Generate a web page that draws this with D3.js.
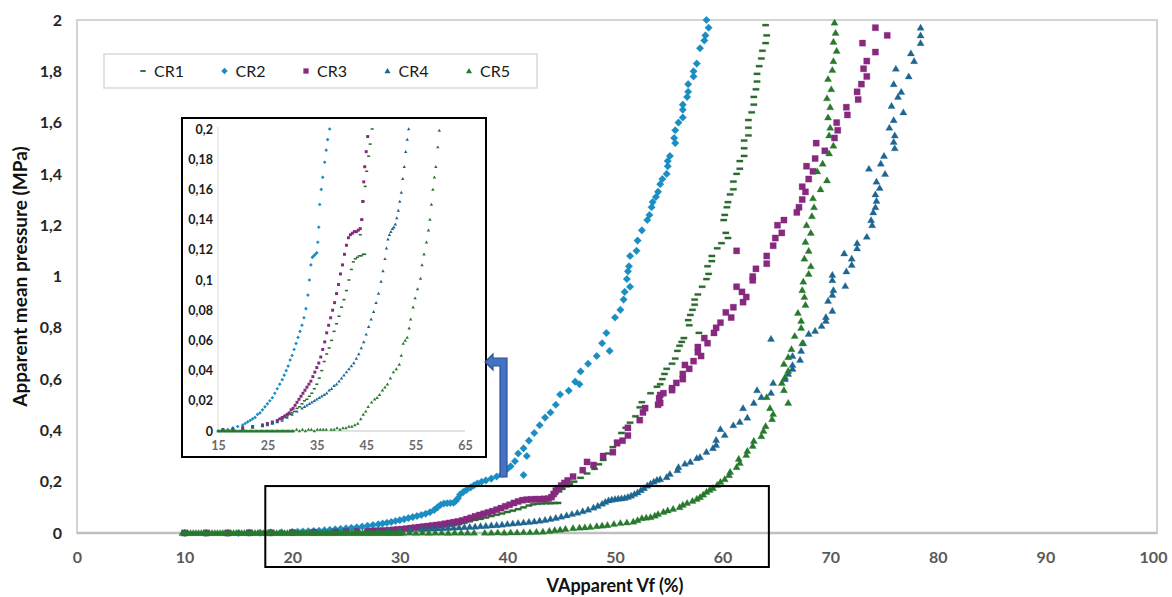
<!DOCTYPE html>
<html>
<head>
<meta charset="utf-8">
<script src="https://cdn.jsdelivr.net/npm/d3@7"></script>
<style>
  body { margin: 0; background: #fff; }
  svg { display: block; font-family: Lato, "Open Sans", sans-serif; }
</style>
</head>
<body>
<svg id="chart" width="1172" height="597"></svg>
<script>
// values: [volume fraction %, pressure MPa]
var seriesNames = ["CR1", "CR2", "CR3", "CR4", "CR5"];

var cr1 = [[10,0],[12,0],[14,0],[16,0],[18,0.001],[20,0.001],[22,0.002],[24,0.003],[25,0.004],[26,0.005],[27,0.006],[28,0.008],[28.5,0.009],[29,0.01],[29.5,0.011],[30,0.012],[30.5,0.013],[31,0.015],[31.5,0.016],[32,0.018],[32.5,0.02],[33,0.021],[33.5,0.023],[34,0.025],[34.5,0.028],[35,0.031],[35.5,0.035],[36,0.04],[36.5,0.046],[37,0.051],[37.5,0.055],[38,0.06],[38.5,0.066],[39,0.071],[39.5,0.076],[40,0.082],[40.5,0.087],[41,0.093],[41.5,0.1],[42,0.107],[42.4,0.112],[42.8,0.114],[43.2,0.115],[43.6,0.116],[44,0.116],[44.4,0.117],[44.7,0.117],[43.8,0.13],[44.1,0.14],[44.4,0.152],[44.8,0.162],[45.1,0.172],[45.5,0.182],[45.8,0.19],[46.2,0.2],[46.8,0.215],[47.4,0.232],[48.1,0.25],[48.5,0.268],[48.9,0.285],[49.4,0.31],[49.8,0.335],[50.2,0.36],[50.6,0.39],[51,0.41],[51.4,0.43],[51.9,0.455],[52.3,0.49],[52.5,0.51],[53.3,0.545],[53.9,0.57],[54.2,0.58],[54.4,0.6],[54.6,0.62],[54.8,0.64],[55.3,0.66],[55.6,0.68],[55.8,0.71],[56,0.73],[56.2,0.745],[56.4,0.76],[57.8,0.78],[56.9,0.81],[56.8,0.83],[57,0.85],[57.2,0.87],[57.4,0.89],[57.4,0.91],[57.7,0.93],[58.1,0.96],[58.5,0.99],[58.7,1.01],[58.6,1.04],[59,1.06],[59,1.08],[59.5,1.11],[59.9,1.13],[60.5,1.15],[60.3,1.17],[60.1,1.22],[60.2,1.24],[60.4,1.27],[60.5,1.29],[60.7,1.32],[61,1.34],[61,1.37],[61.3,1.4],[61.6,1.42],[61.6,1.45],[62,1.47],[62,1.5],[62,1.53],[62.4,1.55],[62.4,1.58],[62.4,1.61],[62.7,1.64],[62.9,1.67],[62.9,1.7],[63.1,1.73],[63.2,1.76],[63.2,1.79],[63.4,1.82],[63.6,1.85],[63.7,1.88],[64,1.91],[64.1,1.94],[64,1.98]];

var cr2 = [[10,0],[12,0],[14,0],[15,0],[16,0.001],[17,0.001],[18,0.002],[19,0.003],[20,0.004],[20.5,0.005],[21,0.006],[21.5,0.007],[22,0.008],[22.5,0.009],[23,0.011],[23.5,0.012],[24,0.014],[24.5,0.016],[25,0.018],[25.5,0.02],[26,0.022],[26.5,0.025],[27,0.028],[27.5,0.031],[28,0.034],[28.4,0.037],[28.8,0.04],[29.2,0.043],[29.6,0.047],[30,0.05],[30.4,0.054],[30.8,0.058],[31.2,0.062],[31.6,0.066],[32,0.07],[32.4,0.075],[32.8,0.081],[33.2,0.09],[33.5,0.1],[33.8,0.11],[34.1,0.115],[34.4,0.116],[34.7,0.117],[35,0.118],[35.2,0.125],[35.4,0.135],[35.6,0.15],[35.9,0.16],[36.2,0.168],[36.6,0.178],[36.9,0.186],[37.2,0.193],[37.6,0.2],[38,0.205],[38.5,0.212],[39,0.22],[39.5,0.23],[40,0.25],[40.3,0.26],[41.5,0.226],[40.7,0.28],[41,0.31],[41.8,0.3],[41.5,0.33],[42,0.36],[42.5,0.39],[43,0.42],[43.5,0.45],[44,0.47],[44.5,0.5],[44.9,0.54],[45.7,0.555],[46.3,0.59],[46.7,0.58],[46.8,0.63],[47.5,0.66],[48.3,0.69],[49.5,0.71],[48.8,0.74],[49.2,0.78],[50,0.84],[50.5,0.87],[50.8,0.91],[50.9,0.94],[51.4,0.96],[51.1,0.99],[51.2,1.02],[51.3,1.04],[51.4,1.08],[52,1.1],[52.1,1.14],[52.5,1.18],[53,1.22],[53.2,1.24],[53.4,1.27],[53.5,1.29],[53.8,1.31],[54,1.33],[54.2,1.36],[54.4,1.38],[54.8,1.4],[54.9,1.43],[54.9,1.45],[55.1,1.47],[55.6,1.52],[55.5,1.54],[55.6,1.57],[55.9,1.6],[56.3,1.62],[56.3,1.65],[56.3,1.67],[56.7,1.7],[56.8,1.72],[56.8,1.75],[57.3,1.78],[57.3,1.8],[57.6,1.83],[57.9,1.89],[58.3,1.92],[58.4,1.94],[58.7,1.97],[58.5,2]];

var cr3 = [[10,0],[12,0],[14,0],[16,0.001],[18,0.001],[20,0.002],[22,0.003],[24,0.004],[25,0.005],[26,0.006],[27,0.007],[27.5,0.008],[28,0.009],[28.5,0.01],[29,0.011],[29.4,0.012],[29.8,0.014],[30.2,0.015],[30.6,0.017],[31,0.019],[31.4,0.021],[31.8,0.023],[32.2,0.025],[32.6,0.027],[33,0.029],[33.4,0.031],[33.8,0.033],[34.2,0.036],[34.6,0.039],[35,0.042],[35.4,0.045],[35.8,0.049],[36.2,0.054],[36.6,0.059],[37,0.065],[37.4,0.07],[37.8,0.075],[38.2,0.08],[38.6,0.085],[39,0.091],[39.4,0.097],[39.8,0.104],[40.2,0.11],[40.6,0.117],[41,0.123],[41.4,0.128],[41.8,0.13],[42.2,0.131],[42.6,0.132],[43,0.132],[43.4,0.133],[43.8,0.134],[44.1,0.14],[44.3,0.152],[44.5,0.165],[44.7,0.175],[45,0.185],[45.3,0.195],[45.6,0.205],[46.1,0.22],[47,0.245],[47.4,0.277],[48,0.265],[48.9,0.3],[49.8,0.315],[50.2,0.35],[50.7,0.36],[51.2,0.38],[51.2,0.41],[52.3,0.44],[52.6,0.47],[52.8,0.487],[54,0.5],[54.2,0.507],[54.1,0.525],[54.2,0.538],[54.5,0.545],[55.3,0.557],[55.3,0.565],[55.7,0.585],[56.3,0.6],[56.3,0.62],[56.9,0.64],[56.5,0.655],[57.3,0.67],[58,0.69],[57.7,0.705],[57.7,0.725],[58.6,0.74],[58.3,0.76],[59.2,0.78],[59.4,0.8],[59.8,0.82],[60.8,0.84],[60.3,0.86],[61,0.88],[61.9,0.9],[62.2,0.92],[61.8,0.94],[61.3,0.96],[62.8,0.985],[62.8,1],[63.1,1.03],[64.1,1.05],[64.1,1.08],[61.3,1.1],[64.7,1.12],[64.9,1.15],[65.5,1.17],[65.1,1.2],[65.7,1.22],[66.9,1.25],[67.1,1.27],[67.4,1.3],[67.7,1.33],[67.4,1.35],[68,1.38],[68.4,1.41],[67.8,1.43],[68.6,1.46],[69.5,1.49],[68.7,1.52],[70.4,1.54],[70.7,1.57],[70.6,1.6],[71.6,1.63],[71.5,1.66],[72.6,1.69],[72.5,1.72],[72.9,1.75],[73.4,1.78],[73.1,1.81],[73.4,1.84],[74.2,1.875],[73,1.91],[75.3,1.94],[74.2,1.97]];

var cr4 = [[10,0],[12,0],[14,0],[16,0.001],[18,0.002],[20,0.003],[22,0.003],[24,0.004],[25,0.004],[26,0.005],[27,0.006],[28,0.007],[29,0.009],[30,0.011],[31,0.013],[32,0.015],[32.5,0.016],[33,0.017],[33.5,0.018],[34,0.019],[34.5,0.02],[35,0.021],[35.5,0.022],[36,0.023],[36.5,0.024],[37,0.025],[37.5,0.027],[38,0.028],[38.5,0.03],[39,0.031],[39.5,0.033],[40,0.035],[40.5,0.037],[41,0.039],[41.5,0.041],[42,0.043],[42.5,0.045],[43,0.048],[43.5,0.051],[44,0.055],[44.5,0.059],[45,0.064],[45.5,0.069],[46,0.074],[46.5,0.079],[47,0.085],[47.5,0.091],[48,0.099],[48.4,0.106],[48.8,0.114],[49.1,0.121],[49.4,0.127],[49.7,0.13],[50,0.132],[50.3,0.134],[50.6,0.135],[50.9,0.137],[51.2,0.141],[51.5,0.146],[51.8,0.152],[52.1,0.158],[52.4,0.167],[52.7,0.175],[53,0.185],[53.3,0.193],[53.6,0.2],[53.9,0.207],[54.2,0.21],[54.8,0.218],[55.1,0.23],[55.8,0.245],[55.9,0.257],[56.5,0.27],[57,0.277],[57.6,0.292],[57.9,0.296],[58.5,0.316],[59.1,0.331],[59.4,0.343],[59.4,0.363],[60.2,0.382],[59.8,0.405],[61,0.42],[61.6,0.433],[62.3,0.45],[61.9,0.487],[62.9,0.507],[63.6,0.53],[64.5,0.546],[63.2,0.557],[64.7,0.585],[65.8,0.6],[66.1,0.62],[66.5,0.64],[66.5,0.655],[67.2,0.675],[66.5,0.69],[67.3,0.71],[67.5,0.74],[64.5,0.757],[68,0.776],[68.6,0.788],[69.2,0.807],[69.6,0.827],[69.6,0.842],[70.2,0.866],[69.8,0.905],[70.2,0.928],[70.3,0.947],[71.4,0.963],[70.2,0.986],[70.2,1.006],[71.5,1.02],[72,1.045],[72,1.07],[71.3,1.09],[72.5,1.11],[72.5,1.13],[73.4,1.155],[73.9,1.2],[73.8,1.22],[74,1.25],[74.2,1.27],[74.3,1.295],[74.2,1.32],[74.6,1.345],[74.3,1.37],[75.1,1.4],[73.6,1.42],[74.7,1.44],[75,1.47],[76,1.5],[75.9,1.525],[76,1.55],[75.5,1.58],[75.9,1.61],[76.8,1.64],[75.7,1.665],[76.3,1.7],[76.6,1.72],[75.9,1.75],[77.3,1.78],[76.1,1.81],[77.8,1.84],[77.5,1.87],[78.4,1.91],[78.4,1.94],[78.4,1.97]];

var cr5 = [[9.8,0],[10.05,0],[10.3,0],[10.55,0],[10.8,0],[11.05,0],[11.3,0],[11.55,0],[11.8,0],[12.05,0],[12.3,0],[12.55,0],[12.8,0],[13.05,0],[13.3,0],[13.55,0],[13.8,0],[14.05,0],[14.3,0],[14.55,0],[14.8,0],[15.05,0],[15.3,0],[15.55,0],[15.8,0],[16.05,0],[16.3,0],[16.55,0],[16.8,0],[17.05,0],[17.3,0],[17.55,0],[17.8,0],[18.05,0],[18.3,0],[18.55,0],[18.8,0],[19.05,0],[19.3,0],[19.55,0],[19.8,0],[20.05,0],[20.3,0],[20.55,0],[20.8,0],[21.05,0],[21.3,0],[21.55,0],[21.8,0],[22.05,0],[22.3,0],[22.55,0],[22.8,0],[23.05,0],[23.3,0],[23.55,0],[23.8,0],[24.05,0],[24.3,0],[24.55,0],[24.8,0],[25.05,0],[25.3,0],[25.55,0],[25.8,0],[26.05,0],[26.3,0],[26.55,0],[26.8,0],[27.05,0],[27.3,0],[27.55,0],[27.8,0],[28.05,0],[28.3,0],[28.55,0],[28.8,0],[29.05,0],[29.3,0],[29.55,0],[29.8,0],[30.05,0],[30.3,0],[30.9,0.001],[31.5,0],[32.1,0.001],[32.7,0],[33.3,0.001],[33.9,0.001],[34.5,0],[35.1,0.001],[35.7,0.001],[36.3,0.001],[36.9,0.001],[37.9,0.001],[38.5,0.001],[39.1,0.002],[39.7,0.001],[40.3,0.002],[40.9,0.002],[41.5,0.003],[42.1,0.003],[42.7,0.004],[43.3,0.005],[43.9,0.008],[44.4,0.011],[44.9,0.013],[45.4,0.016],[46.1,0.019],[46.7,0.021],[47.2,0.022],[47.7,0.024],[48.3,0.027],[48.8,0.029],[49.3,0.031],[49.9,0.035],[50.5,0.039],[51.1,0.041],[51.7,0.044],[52.1,0.05],[52.5,0.058],[52.9,0.06],[53.3,0.062],[53.7,0.068],[54,0.074],[54.5,0.082],[54.9,0.088],[55.4,0.094],[56,0.101],[56.3,0.11],[56.7,0.117],[57.2,0.125],[57.6,0.133],[57.9,0.14],[58.2,0.15],[58.5,0.16],[58.8,0.168],[59.1,0.175],[59.5,0.188],[59.8,0.199],[60.2,0.21],[60.6,0.226],[60.7,0.238],[61.3,0.257],[61.6,0.273],[61.5,0.289],[62.2,0.304],[62.3,0.32],[62.8,0.34],[62.9,0.359],[63.6,0.378],[63.8,0.398],[64,0.417],[64.6,0.444],[64.7,0.464],[64.4,0.487],[66.1,0.507],[64.1,0.53],[65.7,0.557],[65.5,0.585],[65.8,0.608],[66.1,0.632],[65.7,0.659],[66.1,0.686],[66.4,0.717],[67.4,0.74],[66.7,0.768],[67.3,0.8],[67.3,0.827],[67,0.858],[67.7,0.889],[67.6,0.92],[67.4,0.947],[67.5,0.98],[68,1.01],[68.2,1.04],[67.6,1.07],[68,1.1],[67.7,1.135],[68.2,1.17],[67.8,1.2],[68.3,1.235],[68.5,1.27],[68.4,1.305],[69.1,1.34],[69.7,1.375],[68.8,1.41],[69.3,1.44],[69.9,1.48],[70.3,1.51],[69.9,1.55],[70,1.58],[69.8,1.62],[70,1.66],[69.7,1.695],[70.1,1.73],[69.8,1.77],[70.2,1.805],[70.3,1.84],[70.6,1.88],[70.3,1.915],[70.5,1.95],[70.4,1.99]];

var xTicks = [0, 10, 20, 30, 40, 50, 60, 70, 80, 90, 100];
var yTicks = [0, 0.2, 0.4, 0.6, 0.8, 1, 1.2, 1.4, 1.6, 1.8, 2];
var insetXTicks = [15, 25, 35, 45, 55, 65];
var insetYTicks = [0, 0.02, 0.04, 0.06, 0.08, 0.1, 0.12, 0.14, 0.16, 0.18, 0.2];

var series = [
  {name: seriesNames[0], data: cr1, shape: "dash",     color: "#2c6a2f"},
  {name: seriesNames[1], data: cr2, shape: "diamond",  color: "#1a8dc2"},
  {name: seriesNames[2], data: cr3, shape: "square",   color: "#86297f"},
  {name: seriesNames[3], data: cr4, shape: "triangle", color: "#1e6690"},
  {name: seriesNames[4], data: cr5, shape: "triangle", color: "#27792c"}
];

var svg = d3.select("#chart");

var x = d3.scaleLinear().domain([0, 100]).range([77, 1153]),
    y = d3.scaleLinear().domain([0, 2]).range([533, 20]);

var xi = d3.scaleLinear().domain([15, 65]).range([218, 465]),
    yi = d3.scaleLinear().domain([0, 0.2]).range([431, 129]);

var comma = function(d) { return String(+d.toFixed(2)).replace(".", ","); };

// marker outline for a shape at scale k
function markerPath(shape, k) {
  var p = d3.path();
  if (shape == "dash") {
    p.rect(-3.2 * k, -1.1 * Math.max(k, 0.7), 6.4 * k, 2.2 * Math.max(k, 0.7));
  } else if (shape == "diamond") {
    var r = 3.8 * k;
    p.moveTo(0, -r); p.lineTo(r, 0); p.lineTo(0, r); p.lineTo(-r, 0); p.closePath();
  } else if (shape == "square") {
    p.rect(-3.1 * k, -3.1 * k, 6.2 * k, 6.2 * k);
  } else {
    p.moveTo(0, -3.6 * k); p.lineTo(3.6 * k, 2.6 * k); p.lineTo(-3.6 * k, 2.6 * k); p.closePath();
  }
  return p.toString();
}

// plot area frame
svg.append("rect")
    .attr("x", x(0)).attr("y", y(2))
    .attr("width", x(100) - x(0) + 4).attr("height", y(0) - y(2))
    .attr("fill", "none")
    .attr("stroke", "#d4d4d4")
    .attr("stroke-width", 2);

svg.append("line")
    .attr("x1", x(0)).attr("x2", x(100) + 4)
    .attr("y1", y(0)).attr("y2", y(0))
    .attr("stroke", "#bfbfbf")
    .attr("stroke-width", 2.5);

// axes
var xAxis = svg.append("g")
    .attr("transform", "translate(0," + y(0) + ")")
    .call(d3.axisBottom(x).tickValues(xTicks).tickSize(0).tickPadding(19));
xAxis.select(".domain").remove();
xAxis.selectAll("text")
    .attr("font-size", 16).attr("font-weight", "bold")
    .attr("font-family", "Lato, sans-serif")
    .attr("fill", "#595959");

var yAxis = svg.append("g")
    .attr("transform", "translate(" + x(0) + ",0)")
    .call(d3.axisLeft(y).tickValues(yTicks).tickFormat(comma).tickSize(0).tickPadding(15));
yAxis.select(".domain").remove();
yAxis.selectAll("text")
    .attr("font-size", 16).attr("font-weight", "bold")
    .attr("font-family", "Lato, sans-serif")
    .attr("fill", "#262626");

svg.append("text")
    .attr("x", x(50)).attr("y", 592)
    .attr("text-anchor", "middle")
    .attr("font-size", 18).attr("font-weight", "bold")
    .attr("fill", "#111")
    .text("VApparent Vf (%)");

svg.append("text")
    .attr("transform", "translate(27," + y(1) + ") rotate(-90)")
    .attr("text-anchor", "middle")
    .attr("font-size", 19).attr("font-weight", "bold")
    .attr("fill", "#111")
    .text("Apparent mean pressure (MPa)");

// main series
series.forEach(function(s) {
  svg.append("g").selectAll("path")
      .data(s.data)
    .enter().append("path")
      .attr("d", markerPath(s.shape, 1))
      .attr("transform", function(d) { return "translate(" + x(d[0]) + "," + y(d[1]) + ")"; })
      .attr("fill", s.color)
      .attr("stroke", s.color)
      .attr("stroke-opacity", 0.35)
      .attr("stroke-width", 0.8);
});

// highlight box around low-pressure zone
svg.append("rect")
    .attr("x", x(17.5)).attr("y", y(0.183))
    .attr("width", x(64.3) - x(17.5)).attr("height", y(0) + 34 - y(0.183))
    .attr("fill", "none")
    .attr("stroke", "#000")
    .attr("stroke-width", 2);

// legend
var legend = svg.append("g").attr("transform", "translate(104,54)");
legend.append("rect")
    .attr("width", 433).attr("height", 34)
    .attr("fill", "#fff")
    .attr("stroke", "#d9d9d9")
    .attr("stroke-width", 1.5);

var item = legend.selectAll(".item")
    .data(series)
  .enter().append("g")
    .attr("class", "item")
    .attr("transform", function(d, i) { return "translate(" + (39 + i * 81.5) + ",17)"; });

item.append("path")
    .attr("d", function(d) { return markerPath(d.shape, 0.85); })
    .attr("fill", function(d) { return d.color; });

item.append("text")
    .attr("x", 11)
    .attr("dy", "0.36em")
    .attr("font-size", 16)
    .attr("fill", "#1a1a1a")
    .text(function(d) { return d.name; });

// inset chart
svg.append("rect")
    .attr("x", 182).attr("y", 118)
    .attr("width", 304).attr("height", 339)
    .attr("fill", "#fff")
    .attr("stroke", "#000")
    .attr("stroke-width", 2);

svg.append("line")
    .attr("x1", xi(15)).attr("x2", xi(15))
    .attr("y1", yi(0)).attr("y2", yi(0.2) - 2)
    .attr("stroke", "#d9d9d9").attr("stroke-width", 1);
svg.append("line")
    .attr("x1", xi(15)).attr("x2", xi(65))
    .attr("y1", yi(0)).attr("y2", yi(0))
    .attr("stroke", "#d9d9d9").attr("stroke-width", 1.5);

var xiAxis = svg.append("g")
    .attr("transform", "translate(0," + yi(0) + ")")
    .call(d3.axisBottom(xi).tickValues(insetXTicks).tickSize(0).tickPadding(10));
xiAxis.select(".domain").remove();
xiAxis.selectAll("text")
    .attr("font-size", 12.5).attr("font-weight", "bold")
    .attr("font-family", "Lato, sans-serif")
    .attr("fill", "#6a6a6a");

var yiAxis = svg.append("g")
    .attr("transform", "translate(" + xi(15) + ",0)")
    .call(d3.axisLeft(yi).tickValues(insetYTicks).tickFormat(comma).tickSize(0).tickPadding(5));
yiAxis.select(".domain").remove();
yiAxis.selectAll("text")
    .attr("font-size", 12.5).attr("font-weight", "bold")
    .attr("font-family", "Lato, sans-serif")
    .attr("fill", "#1a1a1a");

series.forEach(function(s) {
  svg.append("g").selectAll("path")
      .data(s.data.filter(function(d) { return d[0] >= 15 && d[0] <= 65 && d[1] <= 0.2; }))
    .enter().append("path")
      .attr("d", markerPath(s.shape, 0.48))
      .attr("transform", function(d) { return "translate(" + xi(d[0]) + "," + yi(d[1]) + ")"; })
      .attr("fill", s.color);
});

// arrow from the box up to the inset
var arrow = d3.path();
arrow.moveTo(485, 362);
arrow.lineTo(493, 354); arrow.lineTo(493, 358);
arrow.lineTo(507, 358); arrow.lineTo(507, 477);
arrow.lineTo(500, 477); arrow.lineTo(500, 366);
arrow.lineTo(493, 366); arrow.lineTo(493, 370);
arrow.closePath();
svg.append("path")
    .attr("d", arrow.toString())
    .attr("fill", "#4472c4")
    .attr("stroke", "#2f528f")
    .attr("stroke-width", 1.2);
</script>
</body>
</html>
